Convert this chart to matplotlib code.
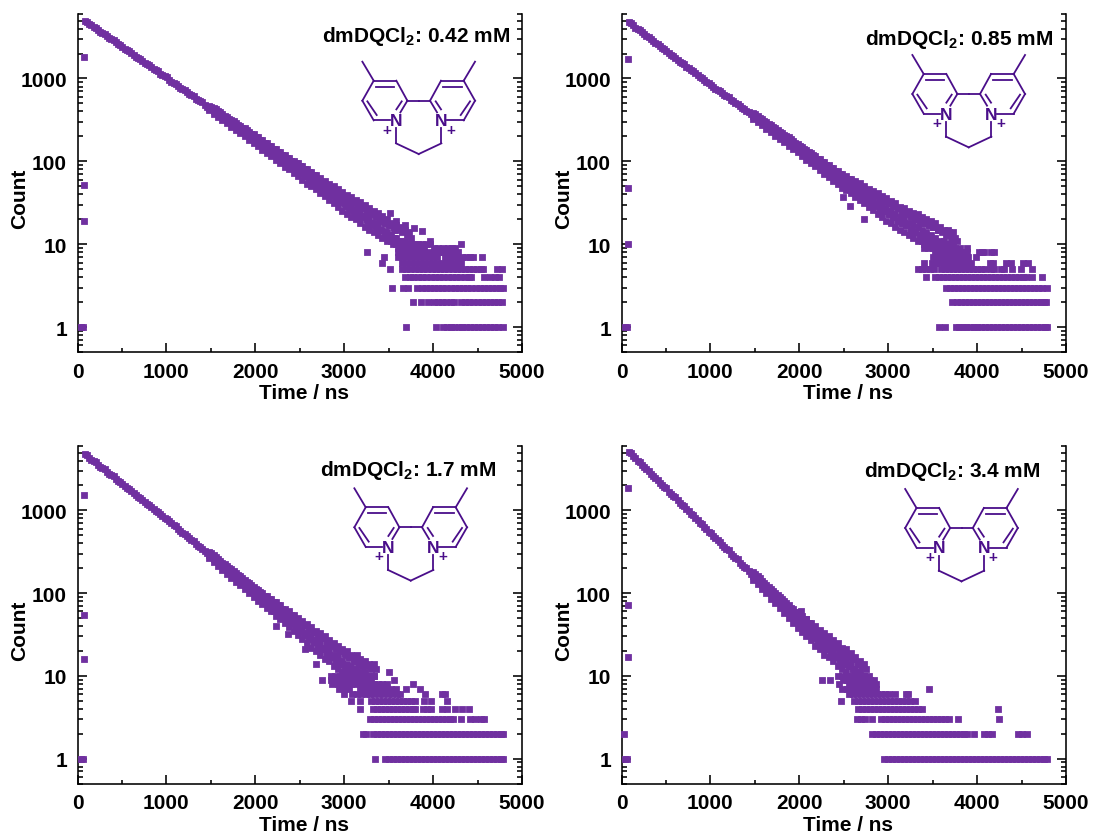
import matplotlib
matplotlib.use('Agg')
import matplotlib.pyplot as plt
from matplotlib.lines import Line2D
from matplotlib.ticker import FixedLocator, NullFormatter, FuncFormatter

plt.rcParams['font.family'] = ['Liberation Sans', 'DejaVu Sans']
plt.rcParams['font.weight'] = 'bold'
plt.rcParams['mathtext.default'] = 'regular'

W, H = 1093, 837
PURPLE = '#7030A0'
DARK = '#4A0E8A'

# time bins shared by the panels (ns)
t_line = [80, 130, 180, 230, 280, 330, 380, 430, 480, 530, 580, 630, 680, 730, 780, 830, 880, 930, 980, 1030,
          1080, 1130, 1180, 1230, 1280, 1330, 1380, 1430]
t_half = [105, 155, 205, 255, 305, 355, 405, 455, 505, 555, 605, 655, 705, 755, 805, 855, 905, 955, 1005, 1055,
          1105, 1155, 1205, 1255, 1305, 1355, 1405, 1455]
t_wide = [1480, 1530, 1580, 1630, 1680, 1730, 1780, 1830, 1880, 1930, 1980, 2030, 2080, 2130, 2180, 2230, 2280,
          2330, 2380, 2430, 2480, 2530, 2580, 2630, 2680, 2730, 2780, 2830, 2880, 2930, 2980, 3030, 3080, 3130,
          3180, 3230, 3280, 3330, 3380, 3430, 3480, 3530, 3580, 3630, 3680, 3730]
t_wide2 = [1505, 1555, 1605, 1655, 1705, 1755, 1805, 1855, 1905, 1955, 2005, 2055, 2105, 2155, 2205, 2255, 2305,
           2355, 2405, 2455, 2505, 2555, 2605, 2655, 2705, 2755, 2805, 2855, 2905, 2955, 3005, 3055, 3105, 3155,
           3205, 3255, 3305, 3355, 3405, 3455, 3505, 3555, 3605, 3655, 3705, 3755]
t_fill_ab = [2405, 2455, 2505, 2555, 2605, 2655, 2705, 2755, 2805, 2855, 2905, 2955, 3005, 3055, 3105, 3155, 3205,
             3255, 3305, 3355, 3405, 3455, 3505, 3555]
t_fill_c = [2205, 2255, 2305, 2355, 2405, 2455, 2505, 2555, 2605, 2655, 2705, 2755, 2805, 2855, 2905, 2955, 3005,
            3055, 3105, 3155, 3205]
t_fill_d = [1905, 1955, 2005, 2055, 2105, 2155, 2205, 2255, 2305, 2355, 2405, 2455, 2505, 2555, 2605, 2655, 2705]

labels = ['dmDQCl$_2$: 0.42 mM', 'dmDQCl$_2$: 0.85 mM', 'dmDQCl$_2$: 1.7 mM', 'dmDQCl$_2$: 3.4 mM']

# panel a, 0.42 mM
a_line = [4950, 4600, 4230, 3850, 3560, 3240, 2990, 2720, 2510, 2290, 2120, 1920, 1780, 1620, 1500, 1360, 1260,
          1140, 1060, 960, 890, 810, 750, 680, 630, 570, 530, 480]
a_half = [4780, 4380, 4060, 3680, 3420, 3090, 2880, 2600, 2420, 2190, 2050, 1840, 1720, 1550, 1450, 1300, 1220, 1090,
          1030, 915, 865, 770, 730, 645, 615, 545, 515, 455]
a_mid = [444, 407, 373, 342, 314, 288, 264, 242, 222, 204, 187, 171, 157, 144, 132, 121, 111, 102, 94, 86, 79, 72,
         66, 61, 56, 51, 47, 43, 39, 36, 33, 30, 28, 26, 24, 22, 20, 18, 17, 15, 14, 13, 12, 11, 11, 10]
a_hi = [470, 440, 405, 370, 340, 318, 290, 268, 250, 228, 212, 195, 180, 165, 152, 140, 130, 120, 110, 102, 95, 87,
        80, 74, 68, 63, 58, 54, 50, 46, 43, 39, 37, 34, 32, 30, 27, 25, 24, 22, 20, 18, 17, 16, 15, 14]
a_lo = [415, 375, 345, 318, 290, 262, 240, 218, 200, 182, 165, 152, 138, 125, 115, 104, 95, 86, 80, 72, 66, 60, 54,
        50, 46, 41, 38, 34, 31, 28, 25, 23, 21, 20, 18, 16, 15, 14, 13, 12, 11, 11, 10]
a_up = [457, 423, 389, 356, 327, 303, 277, 255, 236, 216, 199, 183, 168, 154, 142, 130, 120, 111, 102, 94, 87, 79,
        73, 67, 62, 57, 52, 48, 44, 41, 38, 34, 32, 30, 28, 26, 24, 22, 20, 18, 17, 16, 15, 14, 13, 12]
a_dn = [430, 391, 359, 330, 302, 275, 252, 230, 211, 193, 176, 161, 147, 134, 123, 112, 103, 94, 87, 79, 72, 66, 60,
        55, 51, 46, 42, 38, 35, 32, 29, 26, 24, 23, 21, 19, 17, 16, 15, 13, 12, 12, 11]
a_hi2 = [102, 95, 87, 80, 74, 68, 62, 57, 52, 48, 44, 40, 36, 34, 31, 29, 27, 25, 23, 21, 19, 18, 17, 15]
a_lo2 = [87, 80, 73, 68, 62, 56, 52, 47, 44, 40, 36, 34, 31, 28, 26, 24, 22, 20, 18, 17, 15, 14, 13, 12]
a_extra_t = [76, 76, 76, 3513, 3584, 3689, 3783, 3877, 3970]
a_extra_c = [1800, 52, 19, 24, 19, 17, 15.5, 14.6, 11]
a_n1 = [35, 65, 3700, 4030, 4110, 4155, 4200, 4240, 4290, 4330, 4375, 4420, 4465, 4510, 4550, 4600, 4645, 4690,
        4730, 4785]
a_n2 = [3775, 3865, 3945, 4010, 4055, 4100, 4150, 4200, 4240, 4312, 4360, 4405, 4450, 4500, 4545, 4590, 4640, 4680,
        4725, 4780]
a_n3 = [3540, 3665, 3715, 3820, 3870, 3915, 3960, 4010, 4060, 4105, 4150, 4200, 4245, 4290, 4340, 4385, 4430, 4480,
        4525, 4570, 4620, 4665, 4710, 4750, 4785]
a_n4 = [3680, 3735, 3770, 3830, 3880, 3925, 3975, 4020, 4070, 4115, 4165, 4210, 4260, 4305, 4355, 4400, 4430, 4578,
        4645, 4700, 4745]
a_n5 = [3520, 3650, 3700, 3745, 3795, 3840, 3890, 3935, 3985, 4030, 4080, 4125, 4170, 4220, 4265, 4315, 4360, 4400,
        4445, 4490, 4535, 4560, 4720, 4770]
a_n6 = [3420, 3650, 3700, 3750, 3800, 3850, 3900, 3950, 4000, 4040, 4095, 4140, 4190, 4235, 4285, 4310]
a_n7 = [3445, 3600, 3650, 3700, 3750, 3800, 3850, 3900, 3950, 4000, 4045, 4130, 4170, 4220, 4280, 4330, 4365, 4415,
        4445, 4555]
a_n8 = [3254, 3600, 3650, 3700, 3750, 3800, 3850, 3900, 3950, 4010, 4060, 4110, 4160, 4205, 4240, 4285]
a_n9 = [3600, 3650, 3700, 3750, 3800, 3850, 3900, 4010, 4060, 4110, 4165, 4215, 4245]
a_n10 = [3550, 3600, 3650, 3700, 3750, 3800, 3830, 3880, 3920, 3965, 4315]

# panel b, 0.85 mM
b_line = [4800, 4360, 3970, 3610, 3280, 2980, 2710, 2460, 2240, 2040, 1850, 1680, 1530, 1390, 1265, 1150, 1045, 950,
          870, 795, 728, 665, 608, 556, 508, 465, 425, 389]
b_half = [4630, 4120, 3840, 3420, 3180, 2830, 2620, 2330, 2170, 1930, 1790, 1590, 1480, 1320, 1225, 1090, 1015, 900,
          845, 755, 705, 630, 590, 530, 490, 445, 410, 372]
b_mid = [356, 325, 297, 272, 248, 227, 207, 190, 174, 159, 145, 133, 121, 111, 101, 92, 84, 77, 70, 64, 59, 55, 51,
         47, 44, 40, 37, 34, 31, 29, 27, 25, 23, 21, 20, 18, 17, 16, 15, 14, 13, 12, 11, 11, 10, 10]
b_hi = [384, 352, 323, 297, 272, 250, 229, 210, 194, 178, 163, 150, 137, 127, 116, 106, 98, 90, 83, 76, 71, 67, 62,
        58, 55, 50, 47, 44, 41, 38, 36, 33, 31, 28, 27, 25, 24, 23, 21, 20, 19, 18, 16, 15, 14, 14]
b_lo = [328, 298, 271, 247, 225, 205, 186, 170, 155, 140, 128, 116, 105, 96, 87, 78, 71, 64, 58, 53, 48, 45, 41, 37,
        34, 31, 28, 26, 23, 21, 19, 18, 16, 15, 14, 13, 12, 11, 11, 10]
b_up = [370, 338, 310, 284, 260, 238, 218, 200, 184, 168, 154, 141, 129, 119, 108, 99, 91, 83, 76, 70, 65, 61, 56,
        52, 49, 45, 42, 39, 36, 33, 31, 29, 27, 25, 23, 21, 20, 19, 18, 17, 16, 15, 14, 13, 12, 12]
b_dn = [342, 311, 284, 259, 236, 216, 196, 180, 164, 150, 136, 124, 113, 103, 94, 85, 77, 70, 64, 58, 53, 50, 46, 42,
        39, 35, 32, 30, 27, 25, 23, 21, 19, 18, 17, 15, 14, 13, 13, 12, 11, 10]
b_hi2 = [74, 69, 64, 60, 56, 52, 48, 44, 41, 38, 36, 33, 31, 29, 27, 25, 24, 22, 20, 19, 18, 17, 16, 15]
b_lo2 = [60, 55, 50, 47, 44, 41, 37, 34, 31, 29, 27, 25, 23, 21, 19, 18, 17, 15, 14, 13, 12, 11, 11, 10]
b_extra_t = [75, 75, 75, 2488, 2570, 2730, 3675, 3770]
b_extra_c = [1710, 48, 10, 37, 29, 20, 14.7, 11]
b_n1 = [35, 65, 3575, 3635, 3760, 3800, 3840, 3880, 3920, 3960, 4000, 4045, 4090, 4135, 4180, 4225, 4270,
        4315, 4360, 4405, 4450, 4495, 4540, 4585, 4630, 4675, 4720, 4760, 4785]
b_n2 = [3720, 3770, 3815, 3860, 3905, 3950, 3995, 4040, 4085, 4130, 4175, 4220, 4265, 4310, 4355, 4400, 4445,
        4490, 4535, 4580, 4625, 4670, 4715, 4750, 4780]
b_n3 = [3650, 3695, 3740, 3785, 3830, 3875, 3920, 3965, 4010, 4055, 4100, 4145, 4190, 4235, 4280, 4325, 4370,
        4415, 4460, 4505, 4550, 4595, 4640, 4685, 4730, 4785]
b_n4 = [3423, 3530, 3575, 3620, 3665, 3710, 3755, 3800, 3845, 3890, 3935, 3980, 4025, 4070, 4115, 4160, 4205, 4250,
        4295, 4340, 4385, 4430, 4475, 4520, 4555, 4622, 4731]
b_n5 = [3335, 3380, 3425, 3470, 3515, 3590, 3635, 3680, 3725, 3770, 3815, 3860, 3905, 3950, 3995, 4040,
        4085, 4160, 4195, 4270, 4300, 4389, 4491, 4622]
b_n6 = [3404, 3495, 3540, 3585, 3630, 3675, 3720, 3765, 3810, 3855, 3900, 3930, 4150, 4175, 4320, 4380,
        4515, 4570]
b_n7 = [3500, 3545, 3590, 3640, 3690, 3735, 3780, 3830, 3870, 3900, 3990]
b_n8 = [3530, 3575, 3620, 3670, 3715, 3760, 3805, 3850, 3890, 4025, 4050, 4080, 4155, 4185]
b_n9 = [3400, 3450, 3500, 3550, 3600, 3650, 3700, 3750, 3810, 3882]
b_n10 = [3400, 3450, 3500, 3550, 3600, 3650, 3700]

# panel c, 1.7 mM
c_line = [4800, 4350, 3940, 3570, 3235, 2930, 2655, 2405, 2180, 1975, 1790, 1620, 1470, 1330, 1205, 1090, 990, 897,
          812, 736, 665, 600, 540, 488, 440, 397, 358, 322]
c_half = [4620, 4120, 3810, 3380, 3130, 2780, 2570, 2280, 2110, 1870, 1730, 1540, 1420, 1260, 1165, 1030, 955, 850,
          785, 700, 640, 570, 520, 465, 425, 375, 345, 305]
c_mid = [290, 262, 236, 212, 192, 174, 157, 142, 129, 116, 105, 95, 87, 79, 72, 65, 59, 54, 49, 44, 40, 36, 33, 30,
         27, 25, 22, 20, 18, 17, 15, 14, 13, 12, 11, 11, 10, 10]
c_hi = [316, 286, 258, 234, 214, 195, 176, 160, 146, 132, 120, 110, 100, 92, 85, 78, 71, 65, 60, 54, 50, 46, 42, 39,
        35, 33, 30, 27, 25, 23, 21, 20, 18, 17, 16, 15, 14, 14]
c_lo = [264, 238, 214, 190, 172, 154, 138, 124, 112, 100, 90, 80, 74, 66, 60, 53, 48, 43, 39, 35, 31, 28, 25, 22,
        20, 18, 16, 15, 13, 12, 11, 11]
c_up = [303, 274, 247, 223, 203, 184, 166, 151, 137, 124, 112, 102, 93, 85, 78, 71, 65, 59, 54, 49, 45, 41, 37, 34,
        31, 29, 26, 23, 21, 20, 18, 17, 15, 14, 13, 13, 12, 12]
c_dn = [277, 250, 225, 201, 182, 164, 147, 133, 120, 108, 97, 87, 80, 72, 66, 59, 53, 48, 44, 39, 35, 32, 29, 26,
        23, 21, 19, 17, 15, 14, 13, 12]
c_hi2 = [75, 69, 63, 57, 53, 48, 44, 41, 37, 34, 32, 29, 26, 24, 22, 20, 19, 17, 16, 15, 14]
c_lo2 = [60, 55, 50, 46, 42, 37, 34, 31, 28, 26, 23, 21, 19, 17, 15, 14, 13, 12, 11, 10, 10]
c_extra_t = [76, 76, 76, 2684, 2555, 2373, 2235, 3140, 3502]
c_extra_c = [1520, 55, 16, 14, 21, 32, 40, 18, 11]
c_n1 = [35, 65, 3352, 3455, 3500, 3545, 3590, 3635, 3680, 3725, 3770, 3815, 3860, 3905, 3950, 3995, 4040, 4085,
        4130, 4175, 4220, 4265, 4310, 4355, 4400, 4445, 4490, 4535, 4580, 4625, 4670, 4715, 4760, 4785]
c_n2 = [3210, 3250, 3320, 3365, 3410, 3455, 3500, 3545, 3590, 3635, 3680, 3725, 3770, 3815, 3860, 3905,
        3950, 3995, 4040, 4085, 4130, 4175, 4220, 4265, 4310, 4355, 4400, 4445, 4490, 4535, 4580, 4625, 4670, 4715,
        4760, 4785]
c_n3 = [3290, 3335, 3380, 3425, 3470, 3515, 3560, 3605, 3650, 3695, 3740, 3785, 3830, 3875, 3920, 3965, 4010, 4055,
        4100, 4145, 4190, 4225, 4315, 4420, 4475, 4535, 4570]
c_n4 = [3183, 3320, 3365, 3410, 3455, 3500, 3545, 3590, 3635, 3680, 3725, 3770, 3795, 3885, 3930, 3980,
        4100, 4158, 4245, 4320, 4405]
c_n5 = [3082, 3183, 3300, 3345, 3390, 3435, 3480, 3525, 3570, 3615, 3660, 3705, 3750, 3795, 3895, 3978, 4158]
c_n6 = [2995, 3090, 3140, 3190, 3240, 3290, 3340, 3390, 3440, 3490, 3540, 3590, 3630, 3907, 4095, 4130]
c_n7 = [2940, 3000, 3050, 3180, 3230, 3280, 3330, 3380, 3430, 3480, 3530, 3580, 3700, 3858]
c_n8 = [2865, 2930, 2980, 3030, 3080, 3130, 3180, 3230, 3280, 3330, 3380, 3430, 3480, 3775]
c_n9 = [2746, 2850, 2900, 2950, 3000, 3050, 3100, 3150, 3200, 3250, 3300, 3558]
c_n10 = [2850, 2900, 2950, 3000, 3050, 3100, 3150, 3200, 3250, 3300, 3330]

# panel d, 3.4 mM
d_line = [5100, 4510, 3990, 3525, 3120, 2755, 2436, 2155, 1905, 1685, 1490, 1317, 1164, 1029, 910, 804, 711, 628,
          555, 491, 434, 384, 339, 300, 265, 234, 207, 183]
d_half = [4890, 4240, 3860, 3320, 3020, 2600, 2360, 2030, 1845, 1590, 1445, 1240, 1130, 970, 880, 760, 690, 590, 540,
          465, 420, 362, 330, 283, 258, 220, 200, 172]
d_mid = [162, 143, 126, 112, 99, 88, 78, 69, 61, 54, 48, 43, 39, 35, 31, 28, 25, 23, 20, 18, 16, 15, 14, 12, 11, 10]
d_hi = [179, 159, 141, 127, 113, 101, 90, 81, 72, 65, 59, 53, 48, 44, 40, 36, 33, 30, 27, 25, 22, 21, 19, 17, 15, 14]
d_lo = [145, 128, 112, 99, 86, 75, 66, 58, 50, 44, 38, 34, 30, 27, 23, 21, 18, 17, 15, 13, 12, 11, 10, 10]
d_up = [170, 151, 133, 119, 106, 94, 84, 75, 66, 59, 53, 48, 43, 39, 35, 32, 29, 26, 23, 21, 19, 18, 16, 14, 13, 12]
d_dn = [153, 135, 119, 105, 92, 81, 72, 63, 55, 49, 43, 38, 34, 31, 27, 24, 21, 20, 17, 15, 14, 13, 12, 11]
d_hi2 = [62, 55, 50, 45, 40, 36, 33, 30, 27, 24, 22, 20, 18, 17, 16, 14, 13]
d_lo2 = [52, 46, 41, 37, 33, 29, 26, 24, 21, 19, 17, 16, 14, 13, 12, 11, 10]
d_extra_t = [75, 75, 75, 2019, 2070]
d_extra_c = [1860, 72, 17, 60, 49]
d_n1 = [35, 65, 2950, 2995, 3040, 3085, 3130, 3175, 3220, 3265, 3310, 3355, 3400, 3445, 3490, 3535, 3580, 3625,
        3670, 3715, 3760, 3805, 3850, 3895, 3940, 3985, 4030, 4075, 4120, 4165, 4210, 4255, 4300, 4345, 4390, 4435,
        4480, 4525, 4570, 4615, 4660, 4705, 4750, 4785]
d_n2 = [30, 2820, 2865, 2910, 2955, 3000, 3045, 3090, 3135, 3180, 3225, 3270, 3315, 3360, 3405, 3450, 3495, 3540,
        3585, 3630, 3675, 3720, 3765, 3810, 3855, 3885, 3970, 4080, 4120, 4165, 4465, 4510, 4560]
d_n3 = [2650, 2695, 2740, 2816, 2915, 2960, 3005, 3050, 3095, 3140, 3185, 3230, 3275, 3320, 3365, 3410,
        3455, 3500, 3545, 3590, 3635, 3680, 3782, 4245]
d_n4 = [2660, 2705, 2750, 2795, 2840, 2885, 2930, 2975, 3020, 3065, 3110, 3155, 3200, 3245, 3290, 3335, 3385,
        4234]
d_n5 = [2470, 2610, 2655, 2700, 2745, 2790, 2835, 2880, 2925, 2970, 3015, 3060, 3105, 3150, 3195, 3240, 3300]
d_n6 = [2555, 2600, 2645, 2690, 2735, 2780, 2825, 2870, 2915, 2960, 3005, 3075, 3195, 3225]
d_n7 = [2478, 2540, 2590, 2640, 2690, 2740, 2790, 2840, 2860, 3463]
d_n8 = [2450, 2560, 2610, 2660, 2710, 2760, 2810, 2860]
d_n9 = [2252, 2346, 2490, 2540, 2590, 2640, 2690, 2740, 2790, 2835]
d_n10 = [2430, 2480, 2530, 2580, 2630, 2680, 2730, 2780]

panels = [
    (a_line, a_half, a_mid, a_hi, a_lo, a_up, a_dn, t_fill_ab, a_hi2, a_lo2, a_extra_t, a_extra_c,
     [a_n1, a_n2, a_n3, a_n4, a_n5, a_n6, a_n7, a_n8, a_n9, a_n10]),
    (b_line, b_half, b_mid, b_hi, b_lo, b_up, b_dn, t_fill_ab, b_hi2, b_lo2, b_extra_t, b_extra_c,
     [b_n1, b_n2, b_n3, b_n4, b_n5, b_n6, b_n7, b_n8, b_n9, b_n10]),
    (c_line, c_half, c_mid, c_hi, c_lo, c_up, c_dn, t_fill_c, c_hi2, c_lo2, c_extra_t, c_extra_c,
     [c_n1, c_n2, c_n3, c_n4, c_n5, c_n6, c_n7, c_n8, c_n9, c_n10]),
    (d_line, d_half, d_mid, d_hi, d_lo, d_up, d_dn, t_fill_d, d_hi2, d_lo2, d_extra_t, d_extra_c,
     [d_n1, d_n2, d_n3, d_n4, d_n5, d_n6, d_n7, d_n8, d_n9, d_n10]),
]

# pixel boxes of the axes: left, right, top, bottom
boxes = [(77.5, 522, 15, 353), (621.5, 1066, 15, 353), (77.5, 522, 447, 784.5), (621.5, 1066, 447, 784.5)]
# label right edge and baseline, molecule centre
label_pos = [(510, 42.5), (1053, 45), (497, 476.5), (1041, 477)]
mol_pos = [(418.7, 101.7), (968.7, 95), (410.7, 528.3), (961.5, 529)]

# half of the molecule, offsets in units of 1/3 px from the centre of the C-C bond
half_bonds = [
    [(-169, -117), (-135, -60)],
    [(-135, -60), (-67, -60)],
    [(-67, -60), (-34, 0)],
    [(-34, 0), (-55, 35)],
    [(-85, 59), (-135, 59)],
    [(-135, 59), (-169, 0)],
    [(-169, 0), (-135, -60)],
    [(-129, -42), (-73, -42)],
    [(-154, 2), (-126, 43)],
    [(-51, 2), (-67, 26)],
    [(-34, 0), (0, 0)],
    [(-68, 83), (-68, 128)],
    [(-68, 128), (0, 160)],
]


def px(x, y):
    return x / W, 1 - y / H


def draw_molecule(fig, cx, cy):
    for bond in half_bonds:
        for sign in (-1, 1):
            xs, ys = [], []
            for dx, dy in bond:
                fx, fy = px(cx + sign * dx / 3, cy + dy / 3)
                xs.append(fx)
                ys.append(fy)
            fig.add_artist(Line2D(xs, ys, transform=fig.transFigure, color=DARK, lw=1.3))
    for sign in (-1, 1):
        fx, fy = px(cx + sign * 68 / 3, cy + 60 / 3)
        fig.text(fx, fy, 'N', color=DARK, fontsize=12.5, ha='center', va='center')
        fx, fy = px(cx + sign * 95 / 3, cy + 87 / 3)
        fig.text(fx, fy, '+', color=DARK, fontsize=11, ha='center', va='center')


fig = plt.figure(figsize=(W / 100, H / 100), dpi=100)

for i, panel in enumerate(panels):
    line, half, mid, hi, lo, up, dn, t_fill, hi2, lo2, extra_t, extra_c, rows = panel
    left, right, top, bottom = boxes[i]
    ax = fig.add_axes([left / W, 1 - bottom / H, (right - left) / W, (bottom - top) / H])

    ts, cs = list(t_line), list(line)
    ts += t_half
    cs += half
    for col in (mid, hi, lo):
        ts += t_wide[:len(col)]
        cs += col
    for col in (up, dn):
        ts += t_wide2[:len(col)]
        cs += col
    for col in (hi2, lo2):
        ts += t_fill[:len(col)]
        cs += col
    ts += extra_t
    cs += extra_c
    for n, row in enumerate(rows):
        ts += row
        cs += [n + 1] * len(row)
    sc = ax.scatter(ts, cs, marker='s', s=24, color=PURPLE, linewidths=0, zorder=3, clip_on=False)
    sc.set_snap(False)

    ax.set_yscale('log')
    ax.set_xlim(0, 5000)
    ax.set_ylim(0.5, 6000)
    ax.spines['top'].set_visible(False)
    for side in ('left', 'right', 'bottom'):
        ax.spines[side].set_linewidth(1.15)

    ax.set_xticks([0, 1000, 2000, 3000, 4000, 5000])
    ax.xaxis.set_minor_locator(FixedLocator([500, 1500, 2500, 3500, 4500]))
    ax.yaxis.set_major_locator(FixedLocator([1, 10, 100, 1000]))
    ax.yaxis.set_minor_locator(FixedLocator([m * d for d in (0.1, 1, 10, 100, 1000) for m in range(2, 10)
                                             if 0.5 <= m * d <= 6000]))
    ax.yaxis.set_major_formatter(FuncFormatter(lambda v, p: '%d' % v))
    ax.yaxis.set_minor_formatter(NullFormatter())
    ax.tick_params(axis='y', which='major', direction='in', left=True, right=True, length=6.8, width=1.15,
                   labelsize=15, pad=7.5)
    ax.tick_params(axis='y', which='minor', direction='in', left=True, right=True, length=3.8, width=1.15)
    ax.tick_params(axis='x', which='major', direction='in', length=6.5, width=1.15, labelsize=15, pad=7.2)
    ax.tick_params(axis='x', which='minor', direction='in', length=3.2, width=1.15)

    ax.set_xlabel('Time / ns', fontsize=15, fontweight='bold')
    ax.xaxis.set_label_coords(0.509, -0.092)
    ax.set_ylabel('Count', fontsize=15, fontweight='bold')
    ax.yaxis.set_label_coords(-0.109, 0.456)

    tx, ty = px(*label_pos[i])
    fig.text(tx, ty, labels[i], fontsize=15, fontweight='bold', ha='right', va='baseline')
    draw_molecule(fig, *mol_pos[i])

fig.savefig('out.png', dpi=100)
